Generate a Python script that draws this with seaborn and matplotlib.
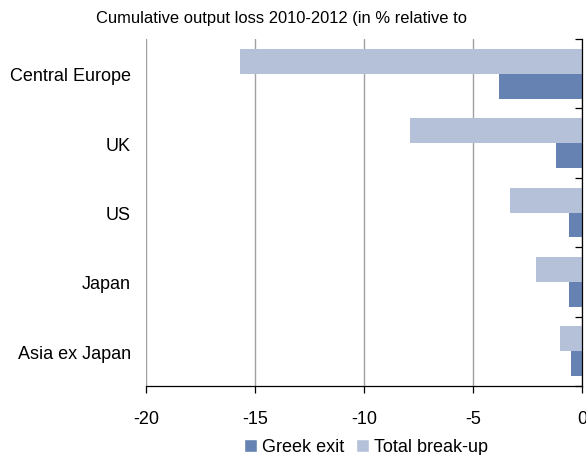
import matplotlib
matplotlib.use("Agg")
import matplotlib.pyplot as plt
import seaborn as sns
import pandas as pd
from matplotlib.patches import Patch
from matplotlib.ticker import FixedLocator

regions = ["Central Europe", "UK", "US", "Japan", "Asia ex Japan"]
greek_exit = [-3.8, -1.2, -0.6, -0.6, -0.5]
total_breakup = [-15.7, -7.9, -3.3, -2.1, -1.0]
series_names = ["Total break-up", "Greek exit"]
x_ticks = [-20, -15, -10, -5, 0]
title = "Cumulative output loss 2010-2012 (in % relative to"

df = pd.DataFrame({
    "region": regions * 2,
    "value": total_breakup + greek_exit,
    "series": [series_names[0]] * len(regions) + [series_names[1]] * len(regions),
})

sns.set_theme(style="white")
plt.rcParams["font.family"] = ["Liberation Sans", "DejaVu Sans"]
plt.rcParams["text.color"] = "black"

colors = {"Greek exit": "#6682B2", "Total break-up": "#B4C1D8"}
fs = 13

fig = plt.figure(figsize=(5.86, 4.56), dpi=100)
ax = fig.add_axes([146 / 586, 1 - 387 / 456, 436 / 586, 347 / 456])

sns.barplot(data=df, y="region", x="value", hue="series", hue_order=series_names,
            order=regions, palette=colors, orient="h", width=0.72, ax=ax,
            saturation=1, edgecolor="none", linewidth=0, legend=False)

ax.set_xlim(-20, 0)
ax.set_ylim(len(regions) - 0.5, -0.5)
ax.set_xticks(x_ticks)
ax.set_xticklabels([str(t) for t in x_ticks], fontsize=fs, color="black")
ax.set_xlabel("")
ax.set_ylabel("")
ax.xaxis.grid(True, color="#A0A0A0", linewidth=1.0)
ax.set_axisbelow(True)

for s in ["top", "left"]:
    ax.spines[s].set_visible(False)
ax.spines["bottom"].set_color("black")
ax.spines["bottom"].set_linewidth(0.9)
ax.spines["right"].set_visible(True)
ax.spines["right"].set_color("black")
ax.spines["right"].set_linewidth(0.9)

ax.tick_params(axis="x", which="major", bottom=True, direction="out", length=5,
               width=0.9, color="black", pad=12)
ax.tick_params(axis="y", which="major", left=False, right=False, labelsize=fs,
               labelcolor="black", pad=4.8)
ax.yaxis.set_minor_locator(FixedLocator([i - 0.5 for i in range(len(regions) + 1)]))
ax.tick_params(axis="y", which="minor", left=False, right=True, direction="in",
               length=5, width=0.9, color="black")

fig.text(282 / 586, 1 - 18 / 456, title, ha="center", va="center", fontsize=11.9,
         color="black")

handles = [Patch(facecolor=colors["Greek exit"], label="Greek exit"),
           Patch(facecolor=colors["Total break-up"], label="Total break-up")]
fig.legend(handles=handles, loc="center", bbox_to_anchor=(366 / 586, 1 - 448 / 456),
           ncol=2, frameon=False, fontsize=fs, handlelength=0.75, handleheight=0.75,
           handletextpad=0.3, columnspacing=0.6, borderaxespad=0, labelcolor="black")

fig.savefig("out.png", dpi=100)
